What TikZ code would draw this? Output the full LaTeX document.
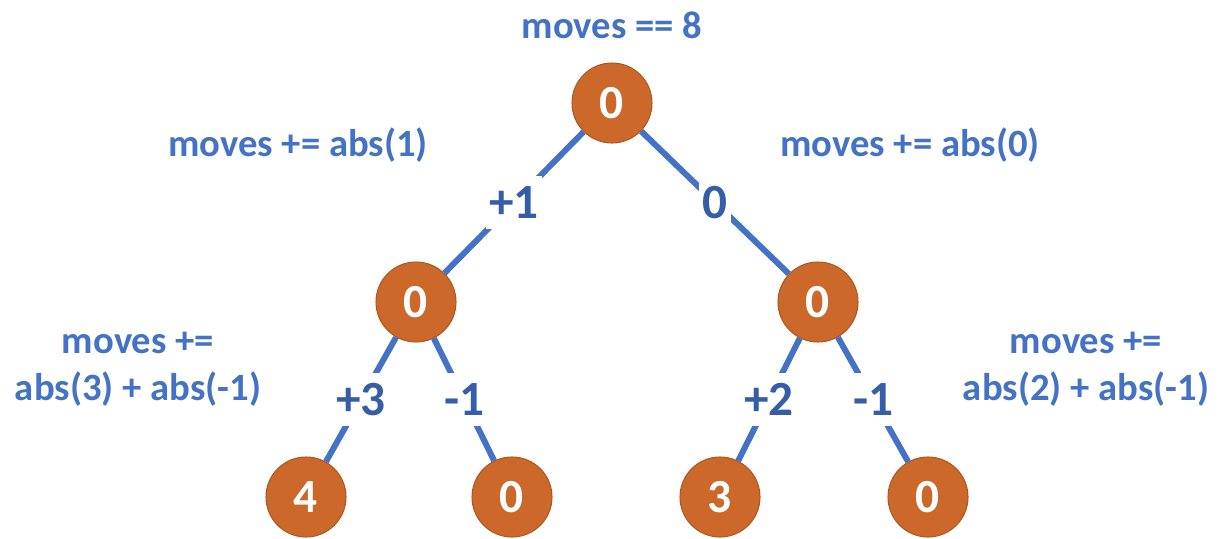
\documentclass[tikz,border=0pt]{standalone}
\usepackage{fontspec}
\setmainfont{Carlito}
\usepackage{tikz}
\usetikzlibrary{positioning}
\definecolor{nodeorange}{RGB}{204,104,42}
\definecolor{edgeblue}{RGB}{68,114,196}
\definecolor{labelblue}{RGB}{54,94,168}

\begin{document}
\begin{tikzpicture}[
  font=\bfseries,
  tnode/.style    = {circle, fill=nodeorange, draw=nodeorange!85!black, line width=0.6pt,
                     minimum size=1.6cm, inner sep=0pt, text=white,
                     font=\fontsize{27}{32}\selectfont\bfseries},
  branch/.style   = {draw=edgeblue, line width=3.4pt},
  delta/.style    = {fill=white, text=labelblue, inner xsep=2pt, inner ysep=6pt,
                     font=\fontsize{28}{33}\selectfont\bfseries},
  note/.style     = {text=edgeblue, align=center,
                     font=\fontsize{22}{27}\selectfont\bfseries},
]
\useasboundingbox (0,0) rectangle (24.42,-10.76);

% Tree nodes: root, middle level, leaves
\node[tnode] (root) at (12.24,-2.06) {0};
\node[tnode] (l)    at ( 8.32,-6.04) {0};
\node[tnode] (r)    at (16.36,-6.04) {0};
\node[tnode] (ll)   at ( 6.12,-9.94) {4};
\node[tnode] (lr)   at (10.24,-9.94) {0};
\node[tnode] (rl)   at (14.40,-9.94) {3};
\node[tnode] (rr)   at (18.56,-9.94) {0};

% Branches with the excess passed up
\draw[branch] (root) -- node[delta] {+1} (l);
\draw[branch] (root) -- node[delta] {0}  (r);
\draw[branch] (l)    -- node[delta] {+3} (ll);
\draw[branch] (l)    -- node[delta] {-1} (lr);
\draw[branch] (r)    -- node[delta] {+2} (rl);
\draw[branch] (r)    -- node[delta] {-1} (rr);

% Move counts
\node[note] (total) at (12.24,-0.50) {moves == 8};
\node[note] (nl)    at ( 5.96,-2.90) {moves += abs(1)};
\node[note] (nr)    at (18.20,-2.90) {moves += abs(0)};
\node[note] (nll)   at ( 2.76,-7.38) {moves +=\\abs(3) + abs(-1)};
\node[note] (nrr)   at (21.72,-7.38) {moves +=\\abs(2) + abs(-1)};
\end{tikzpicture}
\end{document}
